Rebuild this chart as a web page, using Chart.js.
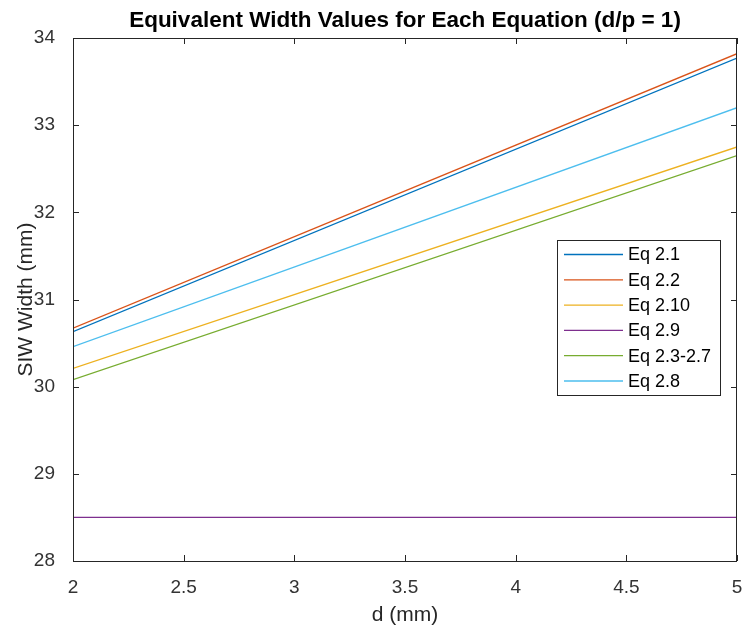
<!DOCTYPE html>
<html lang="en">
<head>
    <meta charset="UTF-8">
    <title>Equivalent Width Values for Each Equation</title>
    <script src="https://cdn.jsdelivr.net/npm/chart.js"></script>
    <style>
        body { margin: 0; background: #fff; }
        #wrap { width: 745px; height: 633px; position: relative; }
    </style>
</head>
<body>
    <div id="wrap">
        <canvas id="widthChart"></canvas>
    </div>

    <script>
        // ------------------------------------------------
        // Dados (d em mm, largura SIW em mm)
        const dValues = [2, 5];
        const eq21 = [30.63, 33.77];
        const eq22 = [30.67, 33.82];
        const eq210 = [30.21, 32.75];
        const eq29 = [28.5, 28.5];
        const eq23a27 = [30.08, 32.65];
        const eq28 = [30.46, 33.20];

        const seriesLabels = ['Eq 2.1', 'Eq 2.2', 'Eq 2.10', 'Eq 2.9', 'Eq 2.3-2.7', 'Eq 2.8'];
        const seriesValues = [eq21, eq22, eq210, eq29, eq23a27, eq28];
        const cores = ['#0072BD', '#D95319', '#EDB120', '#7E2F8E', '#77AC30', '#4DBEEE'];

        const xTicks = [2, 2.5, 3, 3.5, 4, 4.5, 5];
        const yTicks = [28, 29, 30, 31, 32, 33, 34];

        const FONT = "'Liberation Sans', Arial, sans-serif";
        const AXIS_COLOR = '#262626';

        // ------------------------------------------------
        // Caixa dos eixos, marcas internas, título e legenda no estilo MATLAB
        const matlabAxes = {
            id: 'matlabAxes',
            afterDatasetsDraw(chart) {
                const ctx = chart.ctx;
                const a = chart.chartArea;
                const xs = chart.scales.x;
                const ys = chart.scales.y;
                ctx.save();
                ctx.strokeStyle = AXIS_COLOR;
                ctx.lineWidth = 1;
                ctx.strokeRect(Math.round(a.left) + 0.5, Math.round(a.top) + 0.5,
                               Math.round(a.right - a.left) - 1, Math.round(a.bottom - a.top));
                ctx.beginPath();
                xTicks.forEach(v => {
                    const px = Math.round(xs.getPixelForValue(v)) + 0.5;
                    ctx.moveTo(px, a.bottom); ctx.lineTo(px, a.bottom - 6);
                    ctx.moveTo(px, a.top); ctx.lineTo(px, a.top + 6);
                });
                yTicks.forEach(v => {
                    const py = Math.round(ys.getPixelForValue(v)) + 0.5;
                    ctx.moveTo(a.left, py); ctx.lineTo(a.left + 6, py);
                    ctx.moveTo(a.right, py); ctx.lineTo(a.right - 6, py);
                });
                ctx.stroke();
                ctx.restore();
            },
            afterDraw(chart) {
                const ctx = chart.ctx;
                const a = chart.chartArea;
                ctx.save();
                // título
                ctx.fillStyle = '#000';
                ctx.font = 'bold 22.5px ' + FONT;
                ctx.textAlign = 'center';
                ctx.textBaseline = 'alphabetic';
                ctx.fillText('Equivalent Width Values for Each Equation (d/p = 1)', (a.left + a.right) / 2, 27);

                // legenda
                const box = { left: 557, top: 240, right: 720, bottom: 395 };
                ctx.fillStyle = '#fff';
                ctx.fillRect(box.left, box.top, box.right - box.left, box.bottom - box.top);
                ctx.strokeStyle = AXIS_COLOR;
                ctx.lineWidth = 1;
                ctx.strokeRect(box.left + 0.5, box.top + 0.5, box.right - box.left, box.bottom - box.top);
                ctx.font = '18px ' + FONT;
                ctx.textAlign = 'left';
                ctx.textBaseline = 'middle';
                chart.data.datasets.forEach((ds, i) => {
                    const y = 254.5 + i * 25.3;
                    ctx.strokeStyle = ds.borderColor;
                    ctx.lineWidth = 1.3;
                    ctx.beginPath();
                    ctx.moveTo(564, y);
                    ctx.lineTo(623, y);
                    ctx.stroke();
                    ctx.fillStyle = '#000';
                    ctx.fillText(ds.label, 628, y + 1);
                });
                ctx.restore();
            }
        };

        window.onload = () => {
            const ctx = document.getElementById('widthChart');
            new Chart(ctx, {
                type: 'line',
                data: {
                    datasets: seriesLabels.map((label, i) => ({
                        label: label,
                        data: dValues.map((d, j) => ({ x: d, y: seriesValues[i][j] })),
                        borderColor: cores[i],
                        backgroundColor: cores[i],
                        borderWidth: 1.3,
                        pointRadius: 0,
                        tension: 0,
                        fill: false
                    }))
                },
                options: {
                    responsive: true,
                    maintainAspectRatio: false,
                    animation: false,
                    layout: { padding: { top: 38, right: 8, left: 0, bottom: 0 } },
                    plugins: {
                        legend: { display: false },
                        title: { display: false },
                        tooltip: { enabled: false }
                    },
                    scales: {
                        x: {
                            type: 'linear',
                            min: 2,
                            max: 5,
                            afterBuildTicks: scale => { scale.ticks = xTicks.map(v => ({ value: v })); },
                            afterFit: scale => {
                                scale.height = 72;
                                scale.paddingLeft = 0;
                                scale.paddingRight = 0;
                            },
                            grid: { display: false },
                            border: { display: false },
                            ticks: {
                                padding: 7,
                                color: '#333',
                                font: { family: FONT, size: 19 },
                                maxRotation: 0,
                                callback: v => String(v)
                            },
                            title: {
                                display: true,
                                text: 'd (mm)',
                                color: '#262626',
                                font: { family: FONT, size: 21 },
                                padding: { top: 0, bottom: 5 }
                            }
                        },
                        y: {
                            min: 28,
                            max: 34,
                            afterBuildTicks: scale => { scale.ticks = yTicks.map(v => ({ value: v })); },
                            afterFit: scale => {
                                scale.width = 73;
                                scale.paddingTop = 0;
                                scale.paddingBottom = 0;
                            },
                            grid: { display: false },
                            border: { display: false },
                            ticks: {
                                padding: 10,
                                color: '#333',
                                font: { family: FONT, size: 19 },
                                callback: v => String(v)
                            },
                            title: {
                                display: true,
                                text: 'SIW Width (mm)',
                                color: '#262626',
                                font: { family: FONT, size: 21 },
                                padding: { top: 14, bottom: 0 }
                            }
                        }
                    }
                },
                plugins: [matlabAxes]
            });
        };
    </script>
</body>
</html>
